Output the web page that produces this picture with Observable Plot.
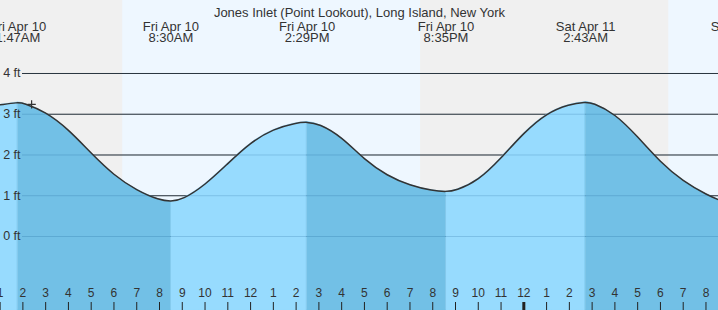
<!DOCTYPE html>
<html><head><meta charset="utf-8">
<script src="https://cdn.jsdelivr.net/npm/d3@7"></script>
<script src="https://cdn.jsdelivr.net/npm/@observablehq/plot@0.6"></script>
<style>html,body{margin:0;padding:0;overflow:hidden;background:#f0f0f0}#chart svg{display:block}</style>
</head><body><div id="chart"></div>
<script>
const title = "Jones Inlet (Point Lookout), Long Island, New York";

// high / low tide extremes
const extremeTimes = ["2026-04-10T01:47", "2026-04-10T08:30", "2026-04-10T14:29", "2026-04-10T20:35", "2026-04-11T02:43", "2026-04-11T09:31"];
const extremeFeet  = [3.29, 0.86, 2.81, 1.10, 3.30, 0.76];
const extremeDates = ["Fri Apr 10", "Fri Apr 10", "Fri Apr 10", "Fri Apr 10", "Sat Apr 11", "Sat Apr 11"];
const extremeClock = ["1:47AM", "8:30AM", "2:29PM", "8:35PM", "2:43AM", "9:31AM"];

// hourly tide heights (hours since Fri Apr 10 00:00)
const readHours = [1, 2, 3, 4, 5, 6, 7, 8, 9, 10, 11, 12, 13, 14, 15, 16, 17, 18, 19, 20, 21, 22, 23, 24, 25, 26, 27, 28, 29, 30, 31, 32, 33];
const readFeet  = [3.23, 3.283, 3.06, 2.63, 2.04, 1.50, 1.13, 0.89, 0.90, 1.26, 1.79, 2.31, 2.64, 2.79, 2.77, 2.45, 1.88, 1.49, 1.25, 1.12, 1.123, 1.37, 1.92, 2.55, 3.03, 3.25, 3.287, 3.02, 2.45, 1.82, 1.35, 1.03, 0.79];

// daylight periods
const sunriseTimes = ["2026-04-10T06:23", "2026-04-11T06:22"];
const sunsetTimes  = ["2026-04-10T19:28", "2026-04-11T19:29"];

// current-time marker
const nowTime = "2026-04-10T02:23";
const nowFeet = 3.24;

// axes
const gridFeet = [0, 1, 2, 3, 4];
const gridLabels = ["0 ft", "1 ft", "2 ft", "3 ft", "4 ft"];
const tickHours = [1, 2, 3, 4, 5, 6, 7, 8, 9, 10, 11, 12, 13, 14, 15, 16, 17, 18, 19, 20, 21, 22, 23, 24, 25, 26, 27, 28, 29, 30, 31, 32];
const tickLabels = ["1","2","3","4","5","6","7","8","9","10","11","12","1","2","3","4","5","6","7","8","9","10","11","12","1","2","3","4","5","6","7","8"];
const midnightHour = 24;

const viewStart = "2026-04-10T01:01";
const viewEnd   = "2026-04-11T08:33";
const feetDomain = [-1.816, 5.791];

const base = Date.UTC(2026, 3, 10);
const parse = s => new Date(s + ":00Z");
const atHour = h => new Date(base + h * 3600e3);

const extremes = extremeTimes.map((t, i) => ({time: parse(t), feet: extremeFeet[i], date: extremeDates[i], clock: extremeClock[i]}));
const readings = readHours.map((h, i) => ({time: atHour(h), feet: readFeet[i]}));
const points = [...readings, ...extremes.map(e => ({time: e.time, feet: e.feet}))].sort((a, b) => a.time - b.time);

const bounds = [points[0].time, ...extremes.map(e => e.time), points[points.length - 1].time];
const segs = [];
for (let i = 0; i < bounds.length - 1; i++) {
  const a = bounds[i], b = bounds[i + 1];
  if (b <= a) continue;
  const pts = points.filter(p => p.time >= a && p.time <= b);
  const rise = pts[pts.length - 1].feet > pts[0].feet;
  pts.forEach(p => segs.push({...p, seg: i, rise}));
}
const daylight = sunriseTimes.map((s, i) => ({start: parse(s), end: parse(sunsetTimes[i])}));
const grid = gridFeet.map((f, i) => ({feet: f, label: gridLabels[i]}));
const ticks = tickHours.map((h, i) => ({time: atHour(h), label: tickLabels[i], hour: h}));

const FONT = "'Liberation Sans', Arial, sans-serif";
const CURVE = "basis";
const chart = Plot.plot({
  width: 718,
  height: 310,
  margin: 0,
  x: {type: "utc", domain: [parse(viewStart), parse(viewEnd)], axis: null},
  y: {domain: feetDomain, axis: null},
  style: {background: "#f0f0f0", fontFamily: FONT},
  marks: [
    Plot.rect(daylight, {x1: "start", x2: "end", fill: "#eef7ff"}),
    Plot.ruleY(grid, {y: "feet", stroke: "#333", insetLeft: 22}),
    Plot.areaY(segs.filter(d => d.rise), {x: "time", y1: feetDomain[0], y2: "feet", z: "seg", fill: "#97dbfe", stroke: "#97dbfe", strokeWidth: 0.5, curve: CURVE}),
    Plot.areaY(segs.filter(d => !d.rise), {x: "time", y1: feetDomain[0], y2: "feet", z: "seg", fill: "#72c0e6", stroke: "#72c0e6", strokeWidth: 0.5, curve: CURVE}),
    Plot.ruleY(grid, {y: "feet", stroke: "#004a80", strokeOpacity: 0.18, insetLeft: 22}),
    Plot.line(points, {x: "time", y: "feet", stroke: "#333", strokeWidth: 1.5, curve: CURVE}),
    Plot.dot([{time: parse(nowTime), feet: nowFeet}], {x: "time", y: "feet", symbol: "plus", r: 2.8, stroke: "#333", strokeWidth: 1.2}),
    Plot.text(grid, {y: "feet", text: "label", frameAnchor: "left", textAnchor: "end", dx: 20, fontSize: 12.5, fill: "#333"}),
    Plot.ruleX(ticks.filter(d => d.hour !== midnightHour), {x: "time", insetTop: 302, stroke: "#222", strokeWidth: 1}),
    Plot.ruleX(ticks.filter(d => d.hour === midnightHour), {x: "time", insetTop: 302, stroke: "#222", strokeWidth: 3}),
    Plot.text(ticks, {x: "time", text: "label", frameAnchor: "bottom", dy: -13.8, fontSize: 12, fill: "#333"}),
    Plot.text([title], {text: d => d, frameAnchor: "top", dy: 7.5, fontSize: 13, fill: "#333"}),
    Plot.text(extremes, {x: "time", text: "date", frameAnchor: "top", dy: 21.5, fontSize: 13, fill: "#333"}),
    Plot.text(extremes, {x: "time", text: "clock", frameAnchor: "top", dy: 31.8, fontSize: 13, fill: "#333"})
  ]
});
document.getElementById("chart").appendChild(chart);
</script>
</body></html>
